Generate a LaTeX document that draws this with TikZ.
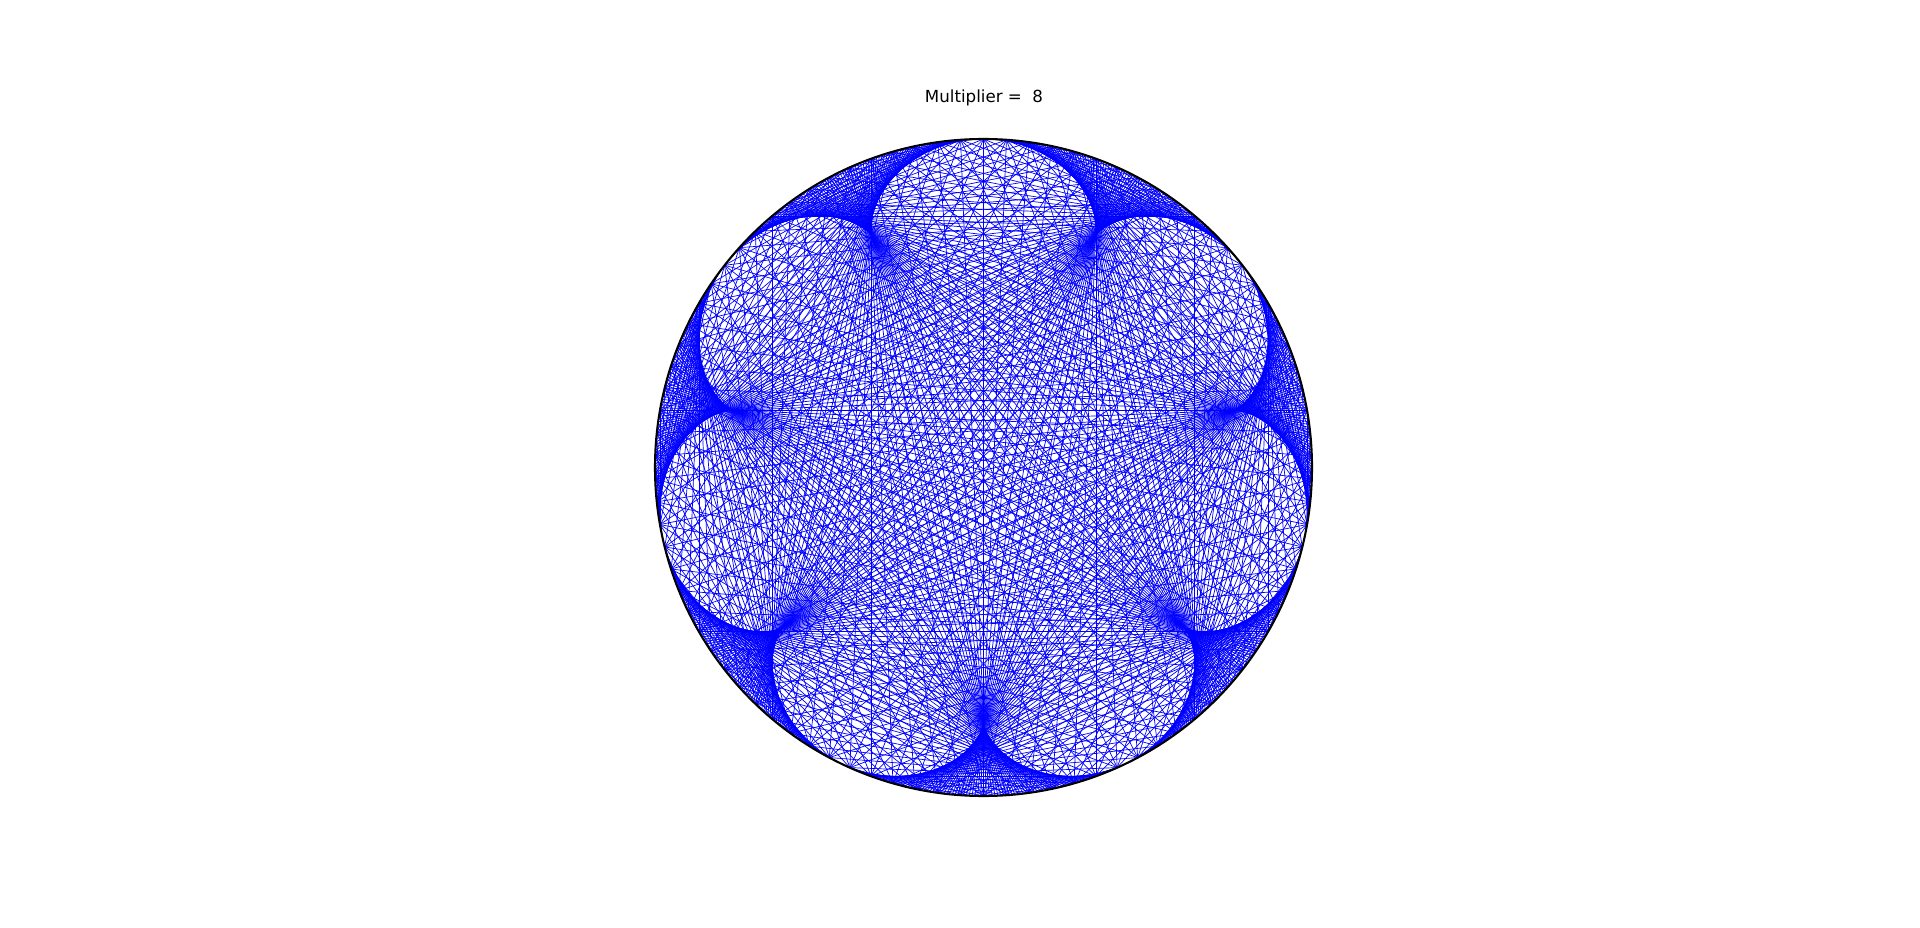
\documentclass[tikz,border=0pt]{standalone}
\usepackage{fontspec}
\setmainfont{DejaVu Sans}
\begin{document}
\begin{tikzpicture}[x=0.72pt,y=0.72pt,
  chord/.style={draw={rgb,255:red,0;green,0;blue,255},line width=0.5pt},
  rim/.style={draw=black,line width=1.5pt},
  titletext/.style={font=\fontsize{12pt}{14pt}\selectfont,anchor=base,inner sep=0pt}]
\useasboundingbox (0,0) rectangle (1920,927);
\node[titletext] (title) at (984,824) {Multiplier =\ \ 8};
\begin{scope}[shift={(983.5,459.5)}]
  \foreach \i in {0,...,719}{
    \pgfmathsetmacro{\a}{90+0.5*\i}
    \pgfmathsetmacro{\b}{90+0.5*mod(8*\i,720)}
    \draw[chord] (\a:328.5) -- (\b:328.5);
  }
  \draw[rim] (0,0) circle[radius=328.5];
\end{scope}
\end{tikzpicture}
\end{document}
